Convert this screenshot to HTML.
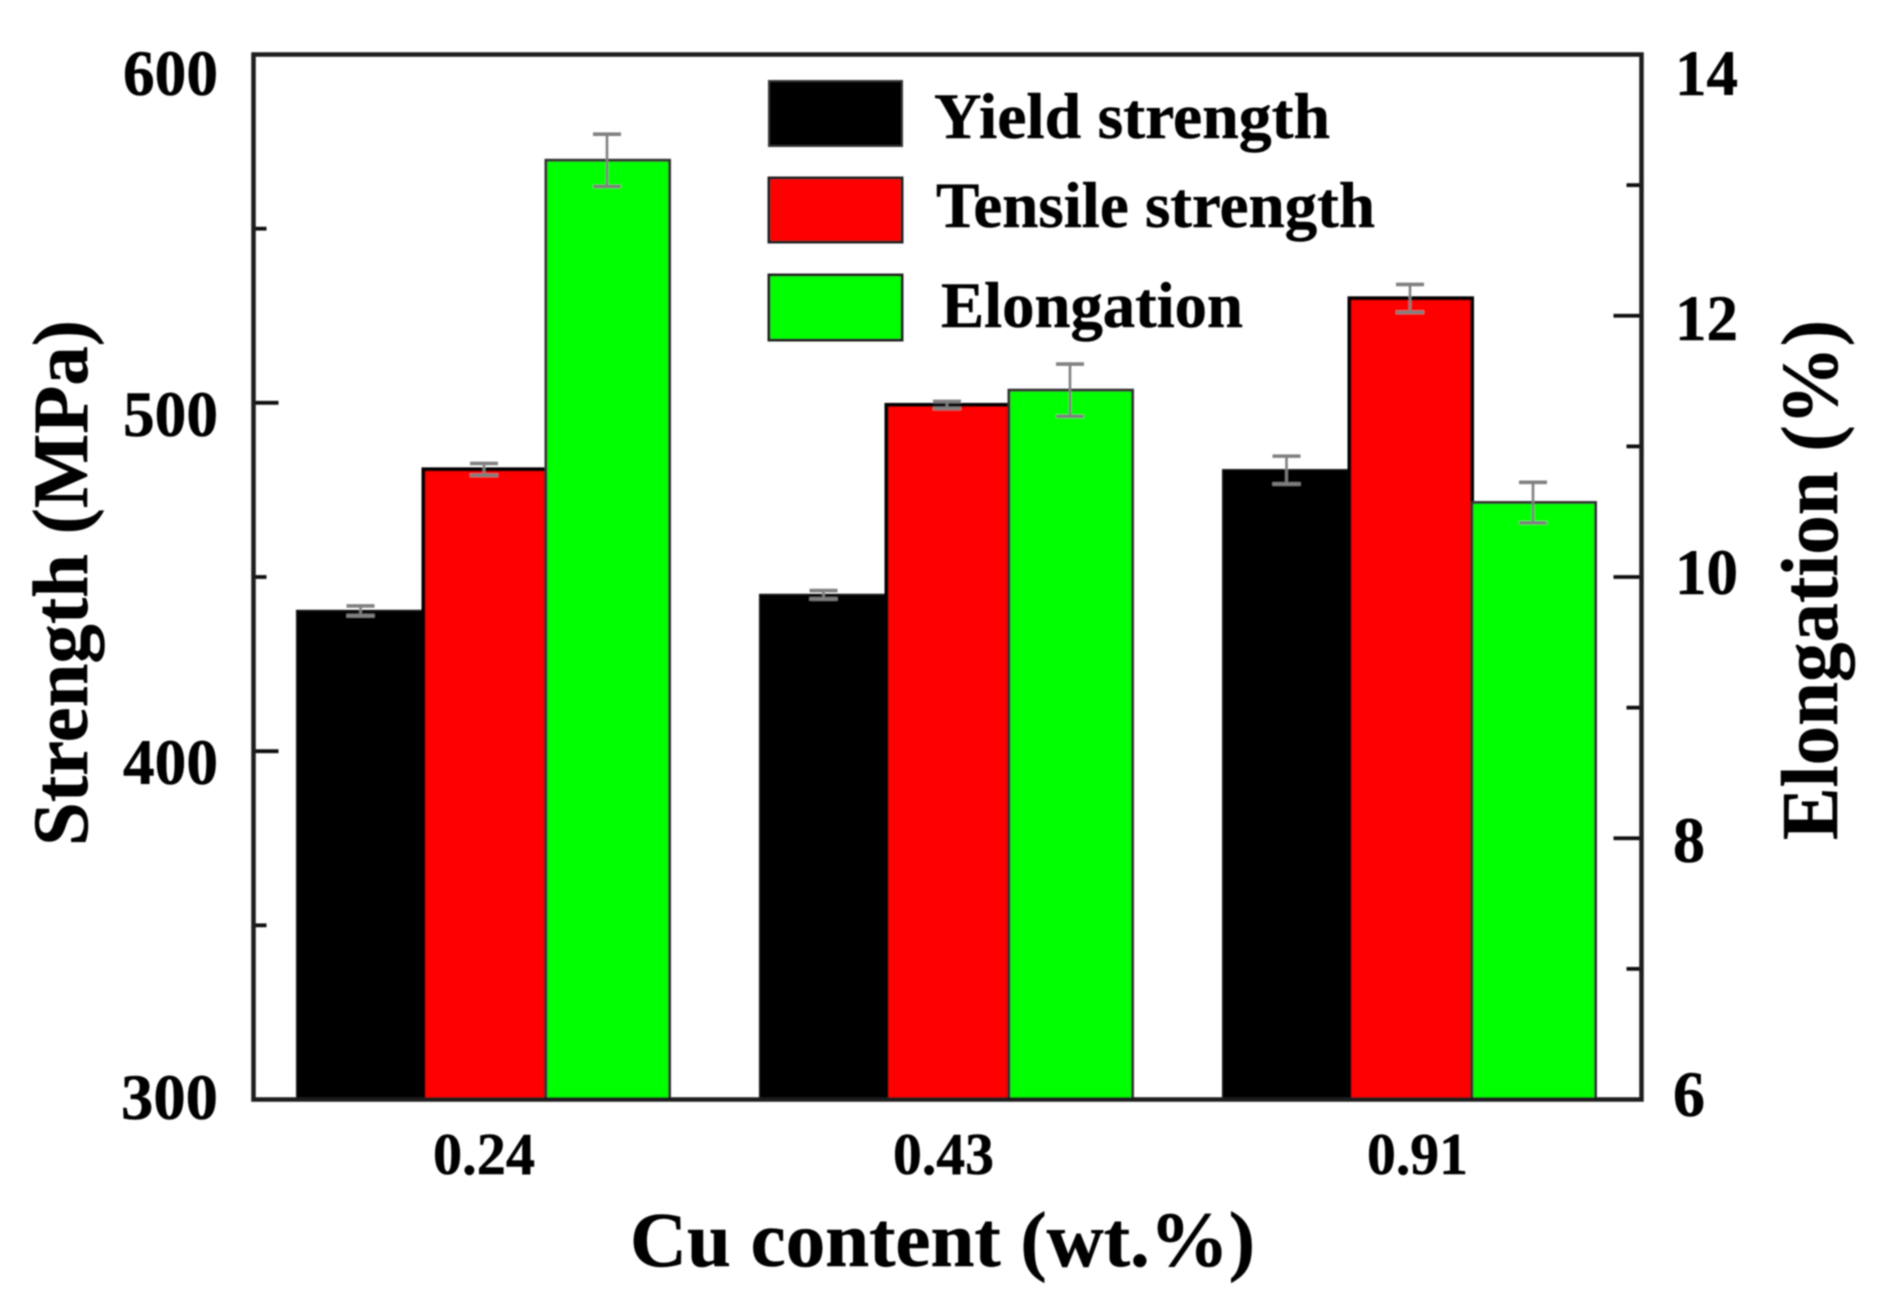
<!DOCTYPE html>
<html lang="en">
<head>
<meta charset="utf-8">
<title>Strength and elongation vs Cu content</title>
<style>
html,body{margin:0;padding:0;background:#fff;}
svg{display:block;}
text{font-family:"Liberation Serif",serif;font-weight:bold;fill:#000;stroke:#000;stroke-width:0.5px;}
.tick{font-size:65px;}
.xtick{font-size:59px;}
.title{font-size:78px;}
.title-right{font-size:80px;}
.legend{font-size:65px;}
</style>
</head>
<body>
<svg id="chart" xmlns="http://www.w3.org/2000/svg" width="1880" height="1308" viewBox="0 0 1880 1308">
  <defs>
    <filter id="soft" x="-2%" y="-2%" width="104%" height="104%"><feGaussianBlur stdDeviation="0.9"/></filter>
  </defs>
  <rect x="0" y="0" width="1880" height="1308" fill="#fff"/>
  <g id="root" filter="url(#soft)">
    <g id="bars"></g>
    <g id="errors"></g>
    <g id="ticks"></g>
    <rect x="253.5" y="54.5" width="1388" height="1045" fill="none" stroke="#1a1a1a" stroke-width="4.5"/>

    <g>
      <text class="tick" x="123" y="95" textLength="95" lengthAdjust="spacingAndGlyphs">600</text>
      <text class="tick" x="123" y="436" textLength="95" lengthAdjust="spacingAndGlyphs">500</text>
      <text class="tick" x="123" y="784" textLength="95" lengthAdjust="spacingAndGlyphs">400</text>
      <text class="tick" x="121" y="1119" textLength="97" lengthAdjust="spacingAndGlyphs">300</text>
    </g>
    <g>
      <text class="tick" x="1675" y="95" textLength="63" lengthAdjust="spacingAndGlyphs">14</text>
      <text class="tick" x="1675" y="340" textLength="63" lengthAdjust="spacingAndGlyphs">12</text>
      <text class="tick" x="1675" y="594" textLength="63" lengthAdjust="spacingAndGlyphs">10</text>
      <text class="tick" x="1673" y="862" textLength="32" lengthAdjust="spacingAndGlyphs">8</text>
      <text class="tick" x="1673" y="1116" textLength="32" lengthAdjust="spacingAndGlyphs">6</text>
    </g>
    <g>
      <text class="xtick" x="433" y="1174" textLength="102" lengthAdjust="spacingAndGlyphs">0.24</text>
      <text class="xtick" x="893" y="1174" textLength="101" lengthAdjust="spacingAndGlyphs">0.43</text>
      <text class="xtick" x="1367" y="1174" textLength="101" lengthAdjust="spacingAndGlyphs">0.91</text>
    </g>
    <text class="title" x="630" y="1266" textLength="625" lengthAdjust="spacingAndGlyphs">Cu content (wt.%)</text>
    <text class="title" transform="translate(87 846) rotate(-90)" x="0" y="0" textLength="526" lengthAdjust="spacingAndGlyphs">Strength (MPa)</text>
    <text class="title-right" transform="translate(1837 840) rotate(-90)" x="0" y="0" textLength="520" lengthAdjust="spacingAndGlyphs">Elongation (%)</text>

    <g>
      <rect x="769" y="81" width="133" height="65" fill="#000" stroke="#333" stroke-width="2"/>
      <rect x="769" y="178" width="133" height="64" fill="#f00" stroke="#222" stroke-width="3"/>
      <rect x="769" y="275" width="133" height="65" fill="#0f0" stroke="#222" stroke-width="3"/>
      <text class="legend" x="934" y="138" textLength="396" lengthAdjust="spacingAndGlyphs">Yield strength</text>
      <text class="legend" x="936" y="227" textLength="439" lengthAdjust="spacingAndGlyphs">Tensile strength</text>
      <text class="legend" x="941" y="327" textLength="302" lengthAdjust="spacingAndGlyphs">Elongation</text>
    </g>
  </g>
</svg>
<script>
var categories = ['0.24', '0.43', '0.91'];
var yieldStrength = [440.3, 444.9, 480.7];
var tensileStrength = [480.9, 499.4, 530.0];
var elongation = [13.19, 11.43, 10.57];
var yieldError = [1.4, 1.2, 4.0];
var tensileError = [1.7, 1.0, 4.0];
var elongationError = [0.2, 0.2, 0.155];
var leftMajorTicks = [300, 400, 500, 600];
var leftMinorTicks = [350, 450, 550];
var rightMajorTicks = [6, 8, 10, 12, 14];
var rightMinorTicks = [7, 9, 11, 13];

var NS = 'http://www.w3.org/2000/svg';
var PLOT = {left: 253.5, right: 1641.5, top: 54.5, bottom: 1099.5};
var GROUP = {start: 297, step: 463, black: 126.5, red: 249, end: 372.5};

function yLeft(v) { return PLOT.bottom + (v - 300) / 300 * (PLOT.top - PLOT.bottom); }
function yRight(v) { return PLOT.bottom + (v - 6) / 8 * (PLOT.top - PLOT.bottom); }
function groupX(i) { return GROUP.start + GROUP.step * i; }

function make(parent, tag, attrs) {
  var el = document.createElementNS(NS, tag);
  for (var k in attrs) el.setAttribute(k, attrs[k]);
  parent.appendChild(el);
  return el;
}

var barsG = document.getElementById('bars');
var errG = document.getElementById('errors');
var ticksG = document.getElementById('ticks');

function drawBar(x0, x1, value, scale, fill, stroke, sw, name) {
  var top = scale(value);
  var r = make(barsG, 'rect', {x: x0, y: top, width: x1 - x0, height: PLOT.bottom - top, fill: fill, stroke: stroke, 'stroke-width': sw});
  
  
}

function drawError(x, value, err, scale, halfCap, name) {
  var g = make(errG, 'g', {stroke: '#808080', fill: 'none'});
  
  
  var y0 = scale(value + err), y1 = scale(value - err);
  make(g, 'line', {x1: x, x2: x, y1: y0, y2: y1, 'stroke-width': 2.6});
  make(g, 'line', {x1: x - halfCap, x2: x + halfCap, y1: y0, y2: y0, 'stroke-width': 3.6});
  make(g, 'line', {x1: x - halfCap, x2: x + halfCap, y1: y1, y2: y1, 'stroke-width': 3.6});
}

categories.forEach(function (cat, i) {
  var g = groupX(i);
  drawBar(g, g + GROUP.black, yieldStrength[i], yLeft, '#000', '#111', 2, 'bar-yield-' + cat);
  drawBar(g + GROUP.black, g + GROUP.red, tensileStrength[i], yLeft, '#f00', '#000', 4, 'bar-tensile-' + cat);
  drawBar(g + GROUP.red, g + GROUP.end, elongation[i], yRight, '#0f0', '#333', 3, 'bar-elongation-' + cat);
});

categories.forEach(function (cat, i) {
  var g = groupX(i);
  drawError(g + 63.5, yieldStrength[i], yieldError[i], yLeft, 14, 'error-yield-' + cat);
  drawError(g + 187, tensileStrength[i], tensileError[i], yLeft, 14, 'error-tensile-' + cat);
  drawError(g + 310, elongation[i], elongationError[i], yRight, 14, 'error-elongation-' + cat);
});

function drawTick(x0, x1, y, w, name) {
  var l = make(ticksG, 'line', {x1: x0, x2: x1, y1: y, y2: y, stroke: '#111', 'stroke-width': w});
  
  
}
leftMajorTicks.forEach(function (v) {
  drawTick(PLOT.left, PLOT.left + 25, yLeft(v), 3.8, 'left-major-tick-' + v);
});
leftMinorTicks.forEach(function (v) {
  drawTick(PLOT.left, PLOT.left + 13, yLeft(v), 3.8, 'left-minor-tick-' + v);
});
rightMajorTicks.forEach(function (v) {
  drawTick(PLOT.right - 28, PLOT.right, yRight(v), 3.8, 'right-major-tick-' + v);
});
rightMinorTicks.forEach(function (v) {
  drawTick(PLOT.right - 15, PLOT.right, yRight(v), 3.8, 'right-minor-tick-' + v);
});
</script>
</body>
</html>
